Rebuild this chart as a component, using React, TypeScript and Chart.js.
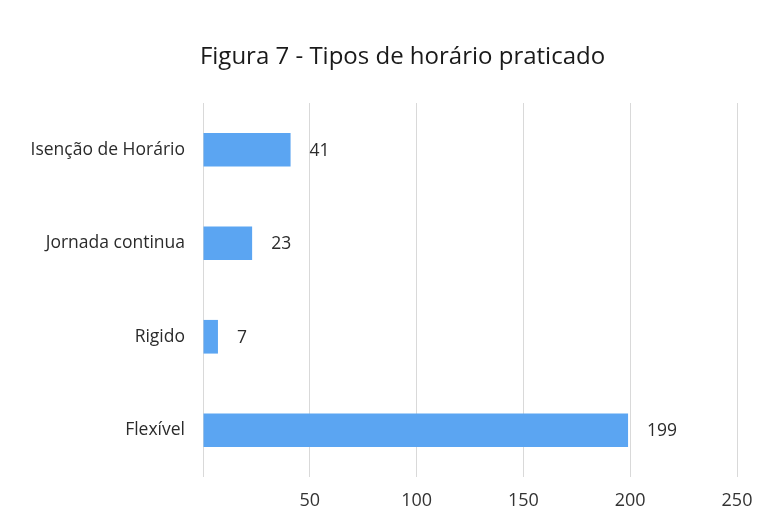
import React, { useEffect, useRef } from "react";
import { Chart, registerables } from "chart.js";

Chart.register(...registerables);

const categories = ["Isenção de Horário", "Jornada continua", "Rigido", "Flexível"];
const values = [41, 23, 7, 199];
const xTicks = [0, 50, 100, 150, 200, 250];
const titleText = "Figura 7 - Tipos de horário praticado";

const FONT = "'Open Sans', Lato, sans-serif";

const valueLabels = {
  id: "valueLabels",
  afterDatasetsDraw(chart: any) {
    const ctx = chart.ctx;
    const meta = chart.getDatasetMeta(0);
    ctx.save();
    ctx.font = `17.5px ${FONT}`;
    ctx.fillStyle = "#2b2b2b";
    ctx.textAlign = "left";
    ctx.textBaseline = "middle";
    meta.data.forEach((bar: any, i: number) => {
      ctx.fillText(String(values[i]), bar.x + 19, bar.y + 1);
    });
    ctx.restore();
  },
};

const titleDraw = {
  id: "titleDraw",
  afterDraw(chart: any) {
    const ctx = chart.ctx;
    ctx.save();
    ctx.font = `24px ${FONT}`;
    ctx.fillStyle = "#1a1a1a";
    ctx.textAlign = "center";
    ctx.textBaseline = "middle";
    ctx.fillText(titleText, chart.width / 2 + 17, 57);
    ctx.restore();
  },
};

export default function App() {
  const ref = useRef<HTMLCanvasElement | null>(null);
  useEffect(() => {
    if (!ref.current) return;
    const chart = new Chart(ref.current, {
      type: "bar",
      data: {
        labels: categories,
        datasets: [
          {
            data: values,
            backgroundColor: "#5BA5F2",
            borderWidth: 0,
            barPercentage: 0.36,
            categoryPercentage: 1,
          },
        ],
      },
      options: {
        indexAxis: "y",
        animation: false,
        responsive: true,
        maintainAspectRatio: false,
        layout: { padding: { left: 8, right: 34, top: 103, bottom: 0 } },
        plugins: {
          legend: { display: false },
          tooltip: { enabled: false },
          title: { display: false },
        },
        scales: {
          x: {
            min: 0,
            max: 250,
            afterBuildTicks: (scale: any) => {
              scale.ticks = xTicks.map((v) => ({ value: v }));
            },
            afterFit: (scale: any) => {
              scale.height = 46;
            },
            grid: { color: "#d9d9d9", lineWidth: 1, drawTicks: false },
            border: { display: false },
            ticks: {
              padding: 13,
              color: "#333333",
              font: { family: FONT, size: 18 },
              callback: (v: any) => (v === 0 ? "" : String(v)),
            },
          },
          y: {
            afterFit: (scale: any) => {
              scale.width = 195;
            },
            grid: { display: false, drawTicks: false },
            border: { display: false },
            ticks: {
              padding: 18,
              color: "#2b2b2b",
              font: { family: FONT, size: 17.5 },
            },
          },
        },
      },
      plugins: [valueLabels, titleDraw],
    });
    return () => chart.destroy();
  }, []);
  return (
    <div style={{ position: "fixed", left: 0, top: 0, width: 771, height: 523, background: "#ffffff" }}>
      <canvas ref={ref} />
    </div>
  );
}
